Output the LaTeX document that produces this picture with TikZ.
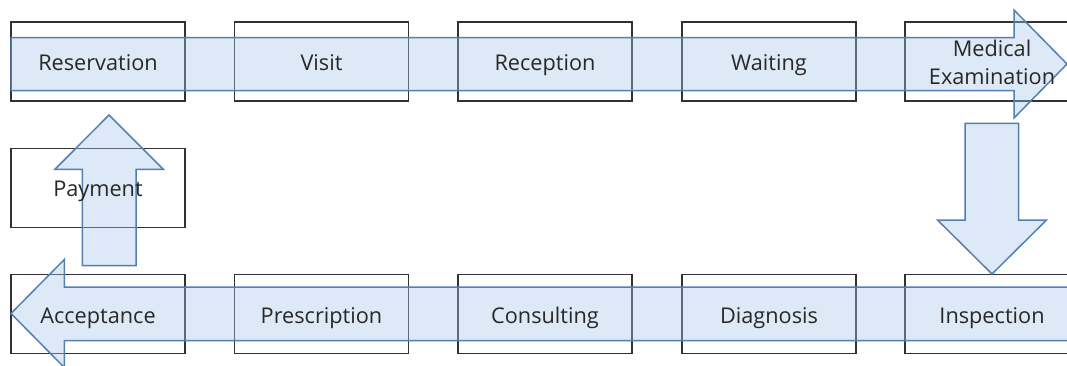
\documentclass[tikz,border=0pt]{standalone}
\usepackage{fontspec}
\usetikzlibrary{calc}
\setmainfont{Open Sans}
\definecolor{boxline}{RGB}{50,50,50}
\definecolor{arrfill}{RGB}{165,198,232}
\definecolor{arrline}{RGB}{84,128,176}
\definecolor{txt}{RGB}{40,40,40}
\begin{document}
\begin{tikzpicture}[x=1pt,y=-1pt,
  box/.style={draw=boxline,line width=1.6pt,minimum width=174pt,minimum height=79pt,inner sep=0pt},
  blockarrow/.style={draw=arrline,line width=1.5pt,fill=arrfill,fill opacity=0.38,line join=miter},
  lbl/.style={text=txt,font=\fontsize{21.7}{27.5}\selectfont,align=center,inner sep=0pt}]
\useasboundingbox (0,0) rectangle (1067,365);
% boxes
\node[box] (res) at (98,61.5) {};
\node[box] (vis) at (321.5,61.5) {};
\node[box] (rec) at (545,61.5) {};
\node[box] (wai) at (769,61.5) {};
\node[box] (med) at (992,61.5) {};
\node[box] (pay) at (98,188) {};
\node[box] (acc) at (98,314) {};
\node[box] (pre) at (321.5,314) {};
\node[box] (con) at (545,314) {};
\node[box] (dia) at (769,314) {};
\node[box] (ins) at (992,314) {};
% block arrows
\draw[blockarrow] (11,37.5) -- (1014,37.5) -- (1014,10) -- (1067,64) -- (1014,118) -- (1014,90.5) -- (11,90.5) -- cycle;
\draw[blockarrow] (965,123.3) -- (1018.7,123.3) -- (1018.7,220) -- (1046.5,220) -- (992,274) -- (937.5,220) -- (965,220) -- cycle;
\draw[blockarrow] (1080,287) -- (64.3,287) -- (64.3,259.5) -- (11,313.5) -- (64.3,367.5) -- (64.3,340.5) -- (1080,340.5) -- cycle;
\draw[blockarrow] (82.3,265.7) -- (136,265.7) -- (136,169.3) -- (163.3,169.3) -- (109,115) -- (55,169.3) -- (82.3,169.3) -- cycle;
% labels
\node[lbl,anchor=base] (resT) at ($(res.center)+(0,9.4)$) {Reservation};
\node[lbl,anchor=base] (visT) at ($(vis.center)+(0,9.4)$) {Visit};
\node[lbl,anchor=base] (recT) at ($(rec.center)+(0,9.4)$) {Reception};
\node[lbl,anchor=base] (waiT) at ($(wai.center)+(0,9.4)$) {Waiting};
\node[lbl] (medT) at ($(med.center)+(0,1)$) {Medical\\Examination};
\node[lbl,anchor=base] (payT) at ($(pay.center)+(0,8.8)$) {Payment};
\node[lbl,anchor=base] (accT) at ($(acc.center)+(0,9.3)$) {Acceptance};
\node[lbl,anchor=base] (preT) at ($(pre.center)+(0,9.3)$) {Prescription};
\node[lbl,anchor=base] (conT) at ($(con.center)+(0,9.3)$) {Consulting};
\node[lbl,anchor=base] (diaT) at ($(dia.center)+(0,9.3)$) {Diagnosis};
\node[lbl,anchor=base] (insT) at ($(ins.center)+(0,9.3)$) {Inspection};
\end{tikzpicture}
\end{document}
